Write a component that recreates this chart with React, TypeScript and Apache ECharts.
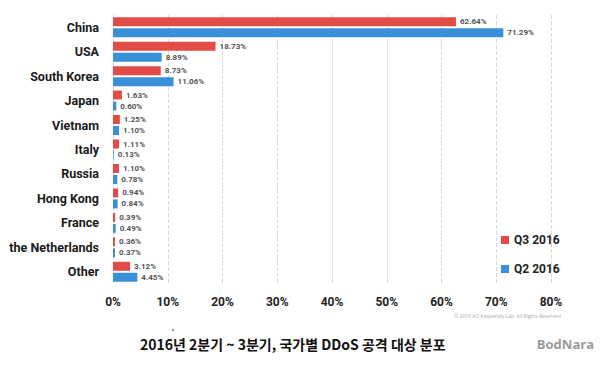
import React, { useEffect, useRef } from "react";
import * as echarts from "echarts";

const categories = ["China", "USA", "South Korea", "Japan", "Vietnam", "Italy", "Russia", "Hong Kong", "France", "the Netherlands", "Other"];
const q3_2016 = [62.64, 18.73, 8.73, 1.63, 1.25, 1.11, 1.10, 0.94, 0.39, 0.36, 3.12];
const q2_2016 = [71.29, 8.89, 11.06, 0.60, 1.10, 0.13, 0.78, 0.84, 0.49, 0.37, 4.45];
const xTicks = [0, 10, 20, 30, 40, 50, 60, 70, 80];
const seriesNames = ["Q3 2016", "Q2 2016"];
const title = "2016년 2분기 ~ 3분기, 국가별 DDoS 공격 대상 분포";
const copyright = "© 2016 AO Kaspersky Lab. All Rights Reserved.";

const RED = "#e34b46";
const BLUE = "#3a90d8";
const NARROW = "Roboto, sans-serif";

export default function App() {
  const ref = useRef<HTMLDivElement>(null);
  useEffect(() => {
    if (!ref.current) return;
    const chart = echarts.init(ref.current, undefined, { renderer: "svg" });
    const label = {
      show: true,
      position: "right" as const,
      distance: 4,
      fontSize: 8,
      lineHeight: 9,
      fontWeight: "bold" as const,
      color: "#555",
      fontFamily: NARROW,
      formatter: (p: any) => p.value.toFixed(2) + "%",
    };
    chart.setOption({
      animation: false,
      backgroundColor: "#ffffff",
      grid: { left: 113, right: 49, top: 15, bottom: 82, containLabel: false, outerBoundsMode: "none" },
      legend: {
        data: seriesNames,
        orient: "vertical",
        left: 496,
        top: 229,
        itemWidth: 8,
        itemHeight: 8,
        itemGap: 17,
        icon: "rect",
        textStyle: { fontSize: 12, fontWeight: "bold", color: "#222", fontFamily: NARROW },
      },
      xAxis: {
        type: "value",
        min: xTicks[0],
        max: xTicks[xTicks.length - 1],
        interval: 10,
        axisLine: { show: false },
        axisTick: { show: false },
        splitLine: { show: true, lineStyle: { type: "dashed", color: "#d8d8d8", width: 1 } },
        axisLabel: {
          formatter: (v: number) => v + "%",
          fontSize: 12,
          fontWeight: "bold",
          color: "#222",
          fontFamily: NARROW,
          margin: 12,
        },
      },
      yAxis: {
        type: "category",
        data: categories,
        inverse: true,
        axisLine: { show: false },
        axisTick: { show: false },
        splitLine: { show: false },
        axisLabel: {
          fontSize: 12.5,
          fontWeight: "bold",
          color: "#1a1a1a",
          fontFamily: NARROW,
          margin: 14,
        },
      },
      series: [
        {
          name: seriesNames[0],
          type: "bar",
          data: q3_2016,
          barWidth: 9,
          barGap: "22%",
          itemStyle: { color: RED },
          label,
        },
        {
          name: seriesNames[1],
          type: "bar",
          data: q2_2016,
          barWidth: 9,
          itemStyle: { color: BLUE },
          label,
        },
      ],
      graphic: [
        {
          type: "text",
          right: 38,
          top: 313,
          style: { text: copyright, fontSize: 5, fill: "#aaa", fontFamily: "'Open Sans', sans-serif" },
        },
        {
          type: "text",
          left: 140,
          top: 337,
          style: {
            text: title,
            fontSize: 14,
            fontWeight: "bold",
            fill: "#111",
            fontFamily: "'Noto Sans CJK KR', sans-serif",
          },
        },
        {
          type: "text",
          right: 6,
          top: 337,
          style: {
            text: "BodNara",
            fontSize: 13,
            fontWeight: "bold",
            fill: "#9a9a9a",
            fontFamily: "'Open Sans', sans-serif",
          },
        },
        {
          type: "circle",
          shape: { cx: 173, cy: 330, r: 0.8 },
          style: { fill: "#555" },
        },
      ],
    });
    return () => chart.dispose();
  }, []);
  return <div ref={ref} style={{ width: 600, height: 366, position: "absolute", left: 0, top: 0 }} />;
}
